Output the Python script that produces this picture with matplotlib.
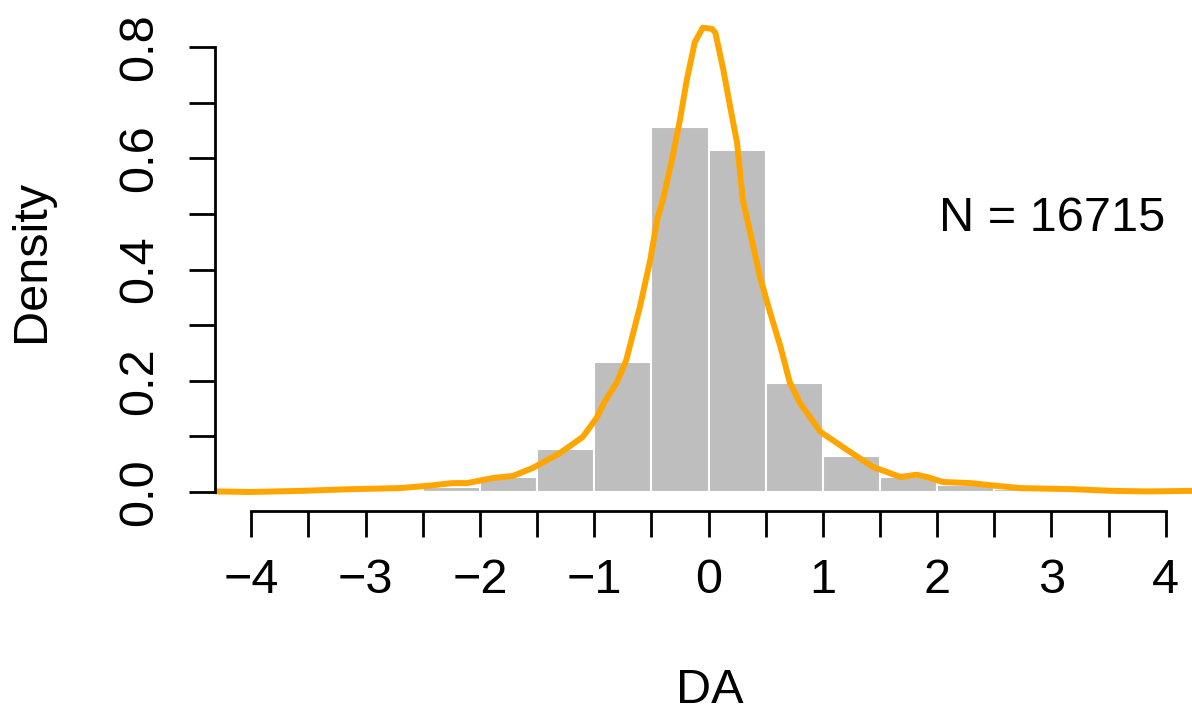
import numpy as np
import matplotlib.pyplot as plt

plt.rcParams['font.family'] = ['Liberation Sans', 'DejaVu Sans']
plt.rcParams['font.size'] = 35

# histogram bins (width 0.5) and density heights
bin_left = [-3.0, -2.5, -2.0, -1.5, -1.0, -0.5, 0.0, 0.5, 1.0, 1.5, 2.0, 2.5, 3.0]
bin_density = [0.004, 0.009, 0.027, 0.078, 0.234, 0.657, 0.615, 0.196, 0.065, 0.027, 0.013, 0.005, 0.002]

# kernel density curve
kde_x = [-4.40, -4.30, -4.01, -3.57, -3.14, -2.70, -2.46, -2.24, -2.11, -1.89, -1.71,
         -1.54, -1.30, -1.10, -0.98, -0.91, -0.80, -0.72, -0.60, -0.51, -0.45, -0.40,
         -0.32, -0.25, -0.19, -0.12, -0.05, 0.03, 0.06, 0.13, 0.19, 0.25, 0.30, 0.36,
         0.45, 0.54, 0.63, 0.71, 0.80, 0.98, 1.21, 1.44, 1.68, 1.82, 1.91, 2.05, 2.29,
         2.52, 2.73, 3.19, 3.54, 3.84, 4.21, 4.40]
kde_y = [0.001, 0.001, 0.000, 0.002, 0.005, 0.007, 0.011, 0.016, 0.016, 0.025, 0.029,
         0.043, 0.070, 0.099, 0.133, 0.162, 0.198, 0.237, 0.333, 0.417, 0.489, 0.525,
         0.597, 0.669, 0.741, 0.809, 0.835, 0.833, 0.826, 0.759, 0.692, 0.628, 0.525,
         0.471, 0.387, 0.322, 0.261, 0.198, 0.160, 0.108, 0.076, 0.045, 0.027, 0.031,
         0.027, 0.018, 0.016, 0.011, 0.007, 0.005, 0.002, 0.001, 0.002, 0.002]

n_obs = 16715

fig = plt.figure(figsize=(11.92, 7.15), dpi=100)
ax = fig.add_axes([0.18037, 0.28531, 0.83054, 0.69790])

ax.bar(bin_left, bin_density, width=0.5, align='edge', color='#BEBEBE',
       edgecolor='white', linewidth=1.5, zorder=1)
ax.plot(kde_x, kde_y, color='#FFA500', lw=4.3, solid_joinstyle='round',
        solid_capstyle='round', zorder=2)

ax.set_xlim(-4.3176, 4.3437)
ax.set_ylim(-0.0342, 0.8633)

# R-like axes: lines only over the tick range
for s in ['top', 'right']:
    ax.spines[s].set_visible(False)
ax.spines['left'].set_bounds(0, 0.8)
ax.spines['bottom'].set_bounds(-4, 4)
ax.spines['left'].set_linewidth(2)
ax.spines['bottom'].set_linewidth(2)

ax.set_xticks(np.arange(-4, 5, 1))
ax.set_xticks(np.arange(-3.5, 4, 1), minor=True)
ax.set_yticks([0.0, 0.2, 0.4, 0.6, 0.8])
ax.set_yticks([0.1, 0.3, 0.5, 0.7], minor=True)
ax.set_yticklabels(['0.0', '0.2', '0.4', '0.6', '0.8'], rotation=90, va='center')

ax.tick_params(axis='both', which='both', length=19, width=2, direction='out')
ax.tick_params(axis='x', which='major', pad=15)
ax.tick_params(axis='y', which='major', pad=19)

ax.set_xlabel('DA', va='center')
ax.xaxis.set_label_coords(0.5, -0.359)
ax.set_ylabel('Density', va='center')
ax.yaxis.set_label_coords(-0.185, 0.501)

ax.text(4, 0.469, f'N = {n_obs}', ha='right', va='baseline')

fig.savefig('out.png', dpi=100)
